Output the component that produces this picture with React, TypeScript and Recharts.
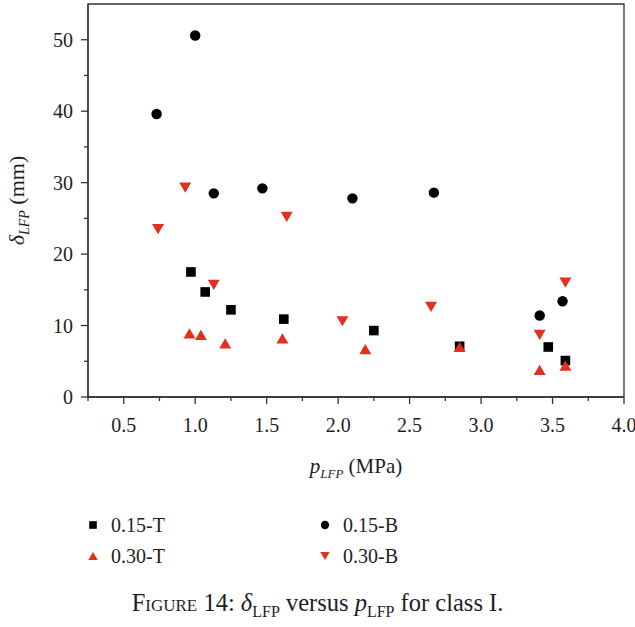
import React from 'react';
import { ScatterChart, Scatter, XAxis, YAxis, ReferenceArea } from 'recharts';

const X_TICKS = [0.25, 0.5, 0.75, 1.0, 1.25, 1.5, 1.75, 2.0, 2.25, 2.5, 2.75, 3.0, 3.25, 3.5, 3.75, 4.0];
const Y_TICKS = [0, 5, 10, 15, 20, 25, 30, 35, 40, 45, 50];

const X_015T = [0.97, 1.07, 1.25, 1.62, 2.25, 2.85, 3.47, 3.59];
const Y_015T = [17.5, 14.7, 12.2, 10.9, 9.3, 7.1, 7.0, 5.1];

const X_015B = [0.73, 1.0, 1.13, 1.47, 2.1, 2.67, 3.41, 3.57];
const Y_015B = [39.6, 50.6, 28.5, 29.2, 27.8, 28.6, 11.4, 13.4];

const X_030T = [0.96, 1.04, 1.21, 1.61, 2.19, 2.85, 3.41, 3.59];
const Y_030T = [8.9, 8.7, 7.5, 8.2, 6.7, 7.0, 3.8, 4.4];

const X_030B = [0.74, 0.93, 1.13, 1.64, 2.03, 2.65, 3.41, 3.59];
const Y_030B = [23.5, 29.3, 15.7, 25.2, 10.6, 12.6, 8.7, 16.0];

const RED = '#e0301e';
const INK = '#1e1e1e';
const AXIS = '#333';
const FONT = '"Liberation Serif", "Times New Roman", serif';

type Kind = 'square' | 'circle' | 'up' | 'down';

const toPoints = (xs: number[], ys: number[]) => xs.map((x, i) => ({ x, y: ys[i] }));

const SERIES: { name: string; kind: Kind; color: string; data: { x: number; y: number }[] }[] = [
  { name: '0.15-T', kind: 'square', color: '#000', data: toPoints(X_015T, Y_015T) },
  { name: '0.15-B', kind: 'circle', color: '#000', data: toPoints(X_015B, Y_015B) },
  { name: '0.30-T', kind: 'up', color: RED, data: toPoints(X_030T, Y_030T) },
  { name: '0.30-B', kind: 'down', color: RED, data: toPoints(X_030B, Y_030B) },
];

function markerPath(kind: Kind, cx: number, cy: number, s: number, color: string) {
  const h = s / 2;
  if (kind === 'square') return <rect x={cx - h * 0.8} y={cy - h * 0.8} width={s * 0.8} height={s * 0.8} fill={color} />;
  if (kind === 'circle') return <circle cx={cx} cy={cy} r={h * 0.87} fill={color} />;
  const th = s * 0.85;
  if (kind === 'up')
    return <polygon points={`${cx - h},${cy + th / 2} ${cx + h},${cy + th / 2} ${cx},${cy - th / 2}`} fill={color} />;
  return <polygon points={`${cx - h},${cy - th / 2} ${cx + h},${cy - th / 2} ${cx},${cy + th / 2}`} fill={color} />;
}

const makeShape = (kind: Kind, color: string) => (props: any) => (
  <g>{markerPath(kind, props.cx, props.cy, 12, color)}</g>
);

const XTick = (props: any) => {
  const { x, y, payload } = props;
  const v = payload.value as number;
  const major = Math.abs(v * 2 - Math.round(v * 2)) < 1e-6;
  return (
    <g>
      <line x1={x} x2={x} y1={y} y2={y + (major ? 7 : 4)} stroke={AXIS} strokeWidth={1.3} />
      {major && (
        <text x={x} y={y + 35} textAnchor="middle" fill={INK} fontSize={20} fontFamily={FONT}>
          {v.toFixed(1)}
        </text>
      )}
    </g>
  );
};

const YTick = (props: any) => {
  const { x, y, payload } = props;
  const v = payload.value as number;
  const major = v % 10 === 0;
  return (
    <g>
      <line x1={x} x2={x - (major ? 7 : 4)} y1={y} y2={y} stroke={AXIS} strokeWidth={1.3} />
      {major && (
        <text x={x - 15} y={y + 7} textAnchor="end" fill={INK} fontSize={20} fontFamily={FONT}>
          {v}
        </text>
      )}
    </g>
  );
};

const XLabel = (props: any) => {
  const vb = props.viewBox;
  return (
    <text x={vb.x + vb.width / 2} y={vb.y + 76} textAnchor="middle" fill={INK} fontSize={21} fontFamily={FONT}>
      <tspan fontStyle="italic">p</tspan>
      <tspan fontStyle="italic" fontSize={13} dy={5}>LFP</tspan>
      <tspan dy={-5}> (MPa)</tspan>
    </text>
  );
};

const YLabel = (props: any) => {
  const vb = props.viewBox;
  const cy = vb.y + vb.height / 2;
  return (
    <text
      x={24}
      y={cy}
      transform={`rotate(-90, 24, ${cy})`}
      textAnchor="middle"
      fill={INK}
      fontSize={22}
      fontFamily={FONT}
    >
      <tspan fontStyle="italic">δ</tspan>
      <tspan fontStyle="italic" fontSize={14} dy={5}>LFP</tspan>
      <tspan dy={-5}> (mm)</tspan>
    </text>
  );
};

function LegendIcon({ kind, color }: { kind: Kind; color: string }) {
  return (
    <svg width={14} height={14} style={{ position: 'absolute', left: -7, top: -7 }}>
      {markerPath(kind, 7, 7, 9.5, color)}
    </svg>
  );
}

const LEGEND_POS = [
  { left: 93, top: 525 },
  { left: 325, top: 525 },
  { left: 93, top: 556 },
  { left: 325, top: 556 },
];

export default function App() {
  return (
    <div style={{ position: 'absolute', left: 0, top: 0, width: 635, height: 627, background: '#fff', fontFamily: FONT }}>
      <ScatterChart width={635} height={627} margin={{ top: 4, right: 11, left: 0, bottom: 170 }}>
        <ReferenceArea x1={0.25} x2={4} y1={0} y2={55} fill="none" stroke={AXIS} strokeWidth={1.3} ifOverflow="visible" />
        <XAxis
          type="number"
          dataKey="x"
          domain={[0.25, 4]}
          ticks={X_TICKS}
          interval={0}
          height={60}
          tickSize={0}
          tickMargin={0}
          tickLine={false}
          tick={<XTick />}
          axisLine={{ stroke: AXIS, strokeWidth: 1.3 }}
          allowDataOverflow
          label={<XLabel />}
        />
        <YAxis
          type="number"
          dataKey="y"
          domain={[0, 55]}
          ticks={Y_TICKS}
          interval={0}
          width={88}
          tickSize={0}
          tickMargin={0}
          tickLine={false}
          tick={<YTick />}
          axisLine={{ stroke: AXIS, strokeWidth: 1.3 }}
          allowDataOverflow
          label={<YLabel />}
        />
        {SERIES.map((s) => (
          <Scatter key={s.name} name={s.name} data={s.data} shape={makeShape(s.kind, s.color)} isAnimationActive={false} />
        ))}
      </ScatterChart>
      {SERIES.map((s, i) => (
        <div key={s.name} style={{ position: 'absolute', left: LEGEND_POS[i].left, top: LEGEND_POS[i].top }}>
          <LegendIcon kind={s.kind} color={s.color} />
          <span
            style={{ position: 'absolute', left: 18, top: -13, fontSize: 20, lineHeight: '26px', color: INK, whiteSpace: 'nowrap' }}
          >
            {s.name}
          </span>
        </div>
      ))}
      <div
        style={{ position: 'absolute', left: 0, width: 635, top: 588, textAlign: 'center', fontSize: 24.5, lineHeight: '30px', color: INK }}
      >
        <span style={{ fontVariant: 'small-caps' }}>Figure</span> 14: <i>δ</i>
        <sub style={{ fontSize: 16 }}>LFP</sub> versus <i>p</i>
        <sub style={{ fontSize: 16 }}>LFP</sub> for class I.
      </div>
    </div>
  );
}
